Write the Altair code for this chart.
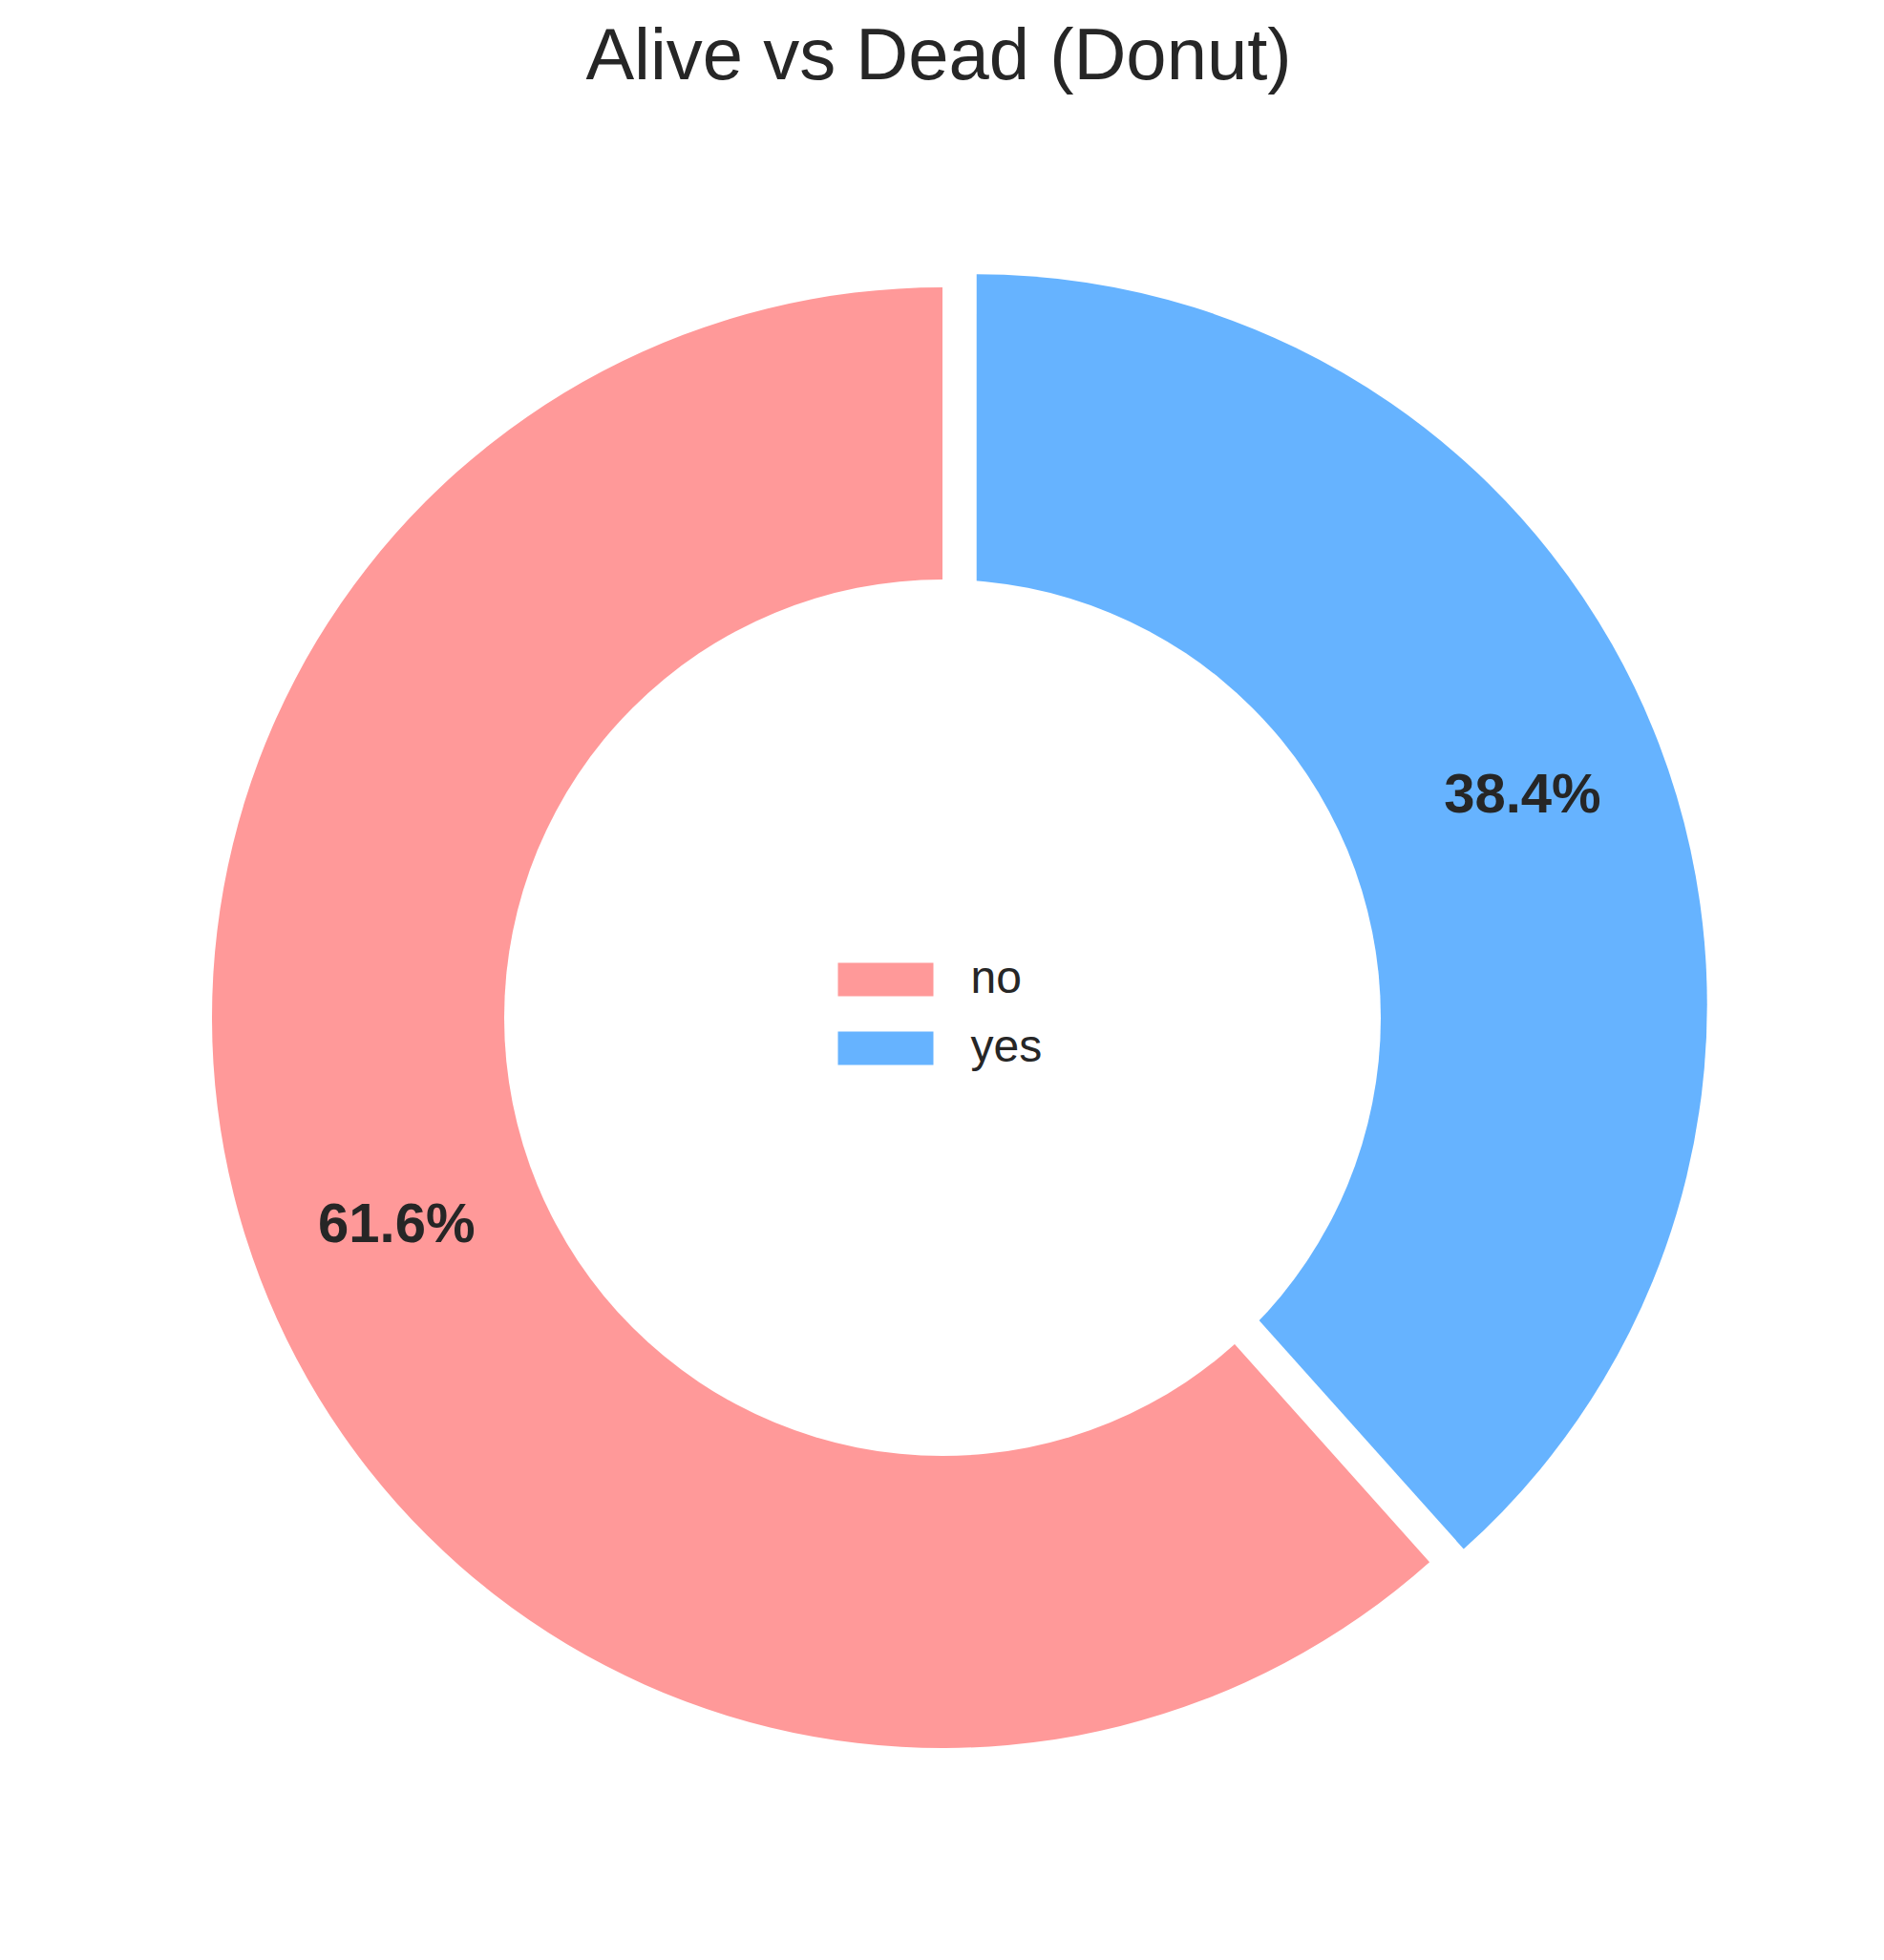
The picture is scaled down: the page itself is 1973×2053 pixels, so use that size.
import math
import altair as alt
import pandas as pd

# ---- data ----
status = ["no", "yes"]
counts = [549, 342]
colors = ["#ff9999", "#66b3ff"]

df = pd.DataFrame({"alive": status, "count": counts})

TOP = 120
R_OUT = 765
R_IN = 459
R_LBL = 612
CX, CY = 979, 1066 - 8 - TOP
EXPLODE = 0.05 * R_OUT
mid_blue = (342 / 891) * math.pi  # direction of exploded wedge (theta mid)
BX = CX + EXPLODE * math.sin(mid_blue)
BY = CY - EXPLODE * math.cos(mid_blue)

theta_scale = alt.Scale(domain=[0, 1], range=[0, 2 * math.pi])

color = alt.Color(
    "alive:N",
    scale=alt.Scale(domain=status, range=colors),
    legend=alt.Legend(
        title=None,
        orient="none",
        legendX=895.5,
        legendY=CY - 1066 + 1009 - 7,
        symbolType="M-2.857,-1L2.857,-1L2.857,1L-2.857,1Z",
        symbolSize=1225,
        symbolStrokeWidth=0,
        symbolOpacity=1,
        labelFontSize=48,
        labelFont="Liberation Sans",
        labelColor="#262626",
        labelOffset=65,
        rowPadding=24,
        padding=0,
    ),
)

base = (
    alt.Chart(df)
    .transform_joinaggregate(total="sum(count)")
    .transform_calculate(
        frac="datum.count / datum.total",
        order="datum.alive == 'yes' ? 0 : 1",
    )
    .transform_window(cum="sum(frac)", sort=[alt.SortField("order")])
    .transform_calculate(
        start="datum.cum - datum.frac",
        mid="datum.cum - datum.frac / 2",
        label="format(datum.frac, '.1%')",
    )
)


def wedge(name, cx, cy):
    sub = base.transform_filter(f"datum.alive == '{name}'")
    arc = sub.mark_arc(radius=R_OUT, radius2=0).encode(
        theta=alt.Theta("start:Q", scale=theta_scale),
        theta2="cum:Q",
        color=color,
        x=alt.value(cx),
        y=alt.value(cy),
    )
    txt = sub.mark_text(
        radius=R_LBL,
        font="Liberation Sans",
        fontWeight="bold",
        fontSize=58,
        color="#262626",
        align="center",
        baseline="middle",
    ).encode(
        theta=alt.Theta("mid:Q", scale=theta_scale),
        text="label:N",
        x=alt.value(cx),
        y=alt.value(cy),
    )
    return arc, txt


arc_no, txt_no = wedge("no", CX, CY)
arc_yes, txt_yes = wedge("yes", BX, BY)

hole = (
    base.transform_filter("datum.alive == 'no'")
    .mark_arc(radius=R_IN, radius2=0, fill="white", stroke=None)
    .encode(
        theta=alt.value(0),
        theta2=alt.value(2 * math.pi),
        x=alt.value(CX),
        y=alt.value(CY),
    )
)

chart = (
    alt.layer(arc_no, arc_yes, hole, txt_no, txt_yes)
    .properties(
        width=1950,
        height=1900,
        autosize=alt.AutoSizeParams(type="none"),
        padding={"left": 0, "top": TOP, "right": 0, "bottom": 0},
        title=alt.TitleParams(
            "Alive vs Dead (Donut)",
            fontSize=76,
            font="Liberation Sans",
            fontWeight="normal",
            color="#262626",
            anchor="middle",
            baseline="alphabetic",
            offset=41,
            dy=72,
        ),
        background="white",
    )
    .configure_view(strokeWidth=0)
)

chart.save("out.html", embed_options={"renderer": "svg", "actions": False})
